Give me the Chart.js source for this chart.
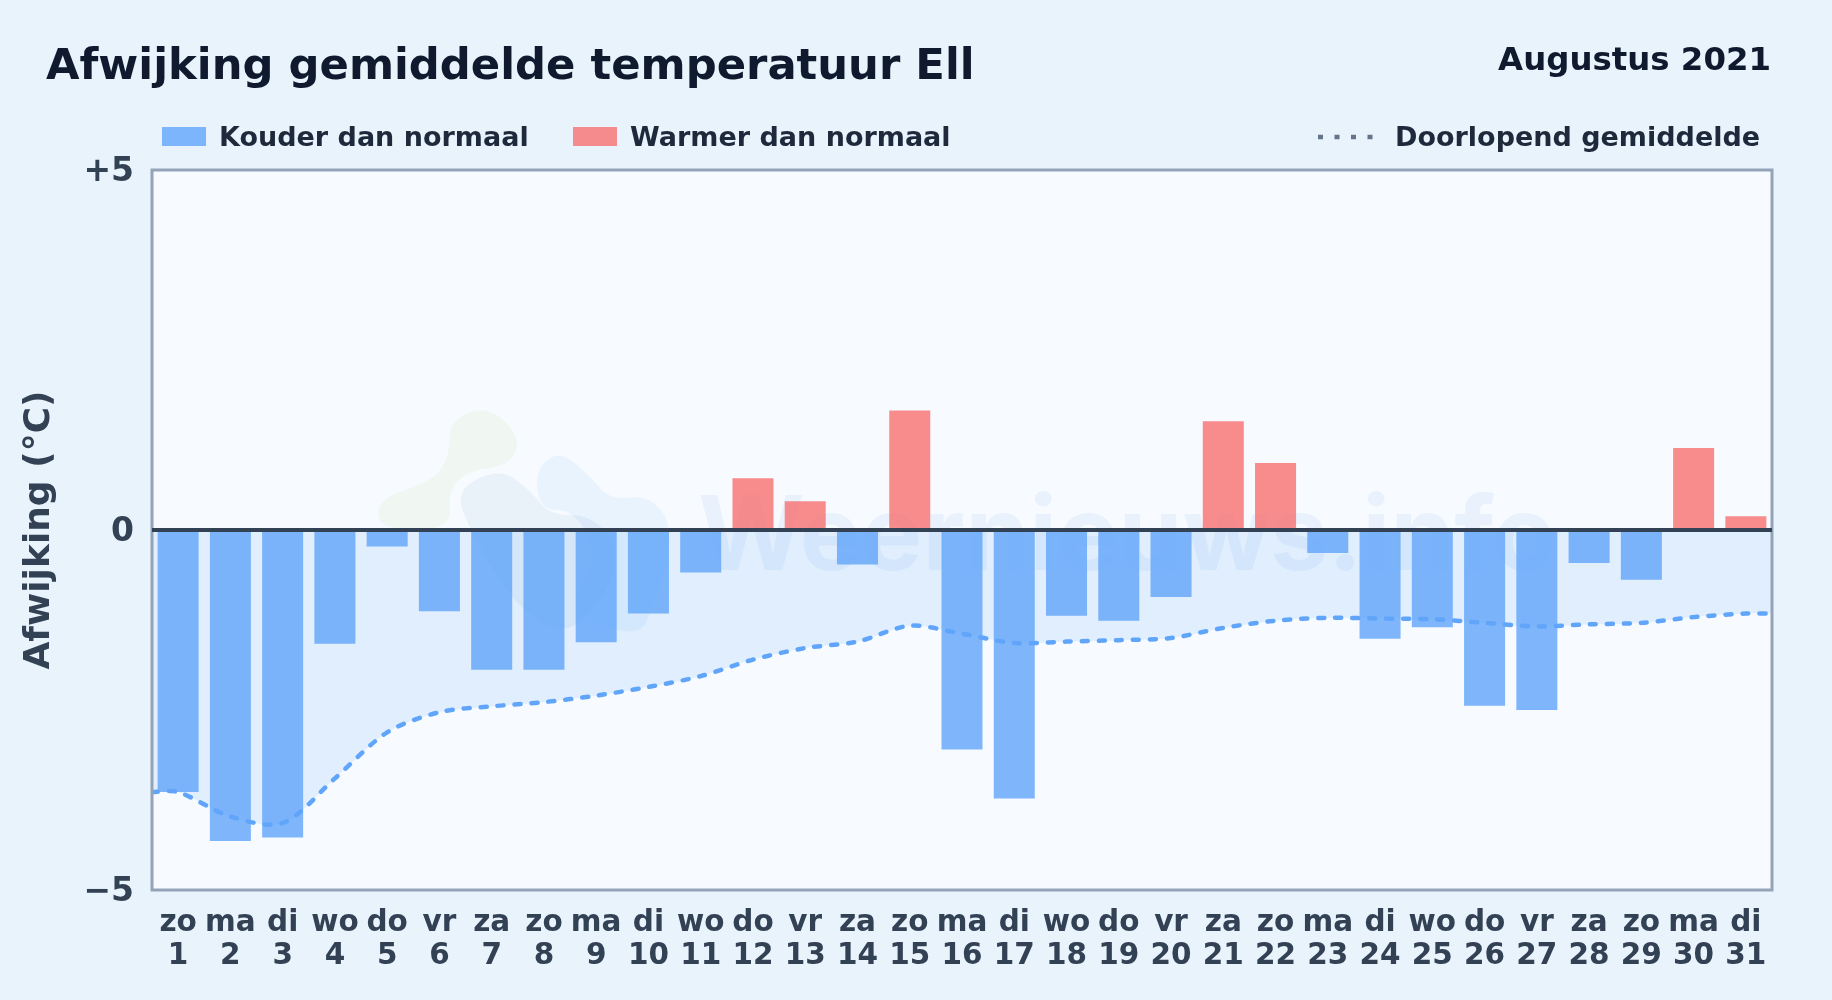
<!DOCTYPE html>
<html lang="nl">
<head>
<meta charset="utf-8">
<title>Afwijking gemiddelde temperatuur Ell</title>
<script src="https://cdn.jsdelivr.net/npm/chart.js@4"></script>
<style>
  html, body { margin: 0; padding: 0; }
  body {
    position: relative; width: 1832px; height: 1000px; overflow: hidden;
    background: #e9f3fc; font-family: "DejaVu Sans", sans-serif; font-weight: 700;
  }
  canvas { position: absolute; left: 0; top: 0; }
  .txt { position: absolute; white-space: nowrap; line-height: 1; }
  #title { left: 46px; top: 43px; font-size: 43.3px; color: #0f1a2e; }
  #month { right: 61px; top: 43px; font-size: 32.4px; color: #0f1a2e; }
  .legend { top: 123px; font-size: 27px; color: #1e293b; }
  .swatch { position: absolute; top: 127px; width: 44px; height: 19px; }
</style>
</head>
<body>
<canvas id="chart" width="1832" height="1000"></canvas>
<div class="txt" id="title">Afwijking gemiddelde temperatuur Ell</div>
<div class="txt" id="month">Augustus 2021</div>
<div class="swatch" style="left:162px;background:rgba(96,165,250,.8)"></div>
<div class="txt legend" style="left:219px">Kouder dan normaal</div>
<div class="swatch" style="left:573px;background:rgba(248,113,113,.8)"></div>
<div class="txt legend" style="left:630px">Warmer dan normaal</div>
<svg style="position:absolute;left:1316px;top:132px" width="60" height="10">
  <line x1="2" y1="5" x2="58" y2="5" stroke="#64748b" stroke-width="4.5" stroke-dasharray="5 11.5"/>
</svg>
<div class="txt legend" style="left:1395px">Doorlopend gemiddelde</div>
<script>
const weekdays = ['zo','ma','di','wo','do','vr','za','zo','ma','di','wo','do','vr','za','zo','ma','di','wo','do','vr','za','zo','ma','di','wo','do','vr','za','zo','ma','di'];
const days = [1,2,3,4,5,6,7,8,9,10,11,12,13,14,15,16,17,18,19,20,21,22,23,24,25,26,27,28,29,30,31];
const deviations = [-3.64,-4.32,-4.27,-1.58,-0.23,-1.13,-1.94,-1.94,-1.56,-1.16,-0.59,0.72,0.40,-0.48,1.66,-3.05,-3.73,-1.19,-1.26,-0.93,1.51,0.93,-0.32,-1.51,-1.35,-2.44,-2.50,-0.46,-0.69,1.14,0.19];
const runningMean = [-3.64,-3.98,-4.07,-3.45,-2.81,-2.53,-2.45,-2.39,-2.30,-2.18,-2.03,-1.80,-1.64,-1.55,-1.33,-1.44,-1.57,-1.55,-1.53,-1.50,-1.36,-1.26,-1.22,-1.23,-1.24,-1.29,-1.34,-1.31,-1.29,-1.21,-1.16];
const yTicks = { '5': '+5', '0': '0', '-5': '\u22125' };

const COLD = 'rgba(96,165,250,.8)';
const WARM = 'rgba(248,113,113,.8)';
const INK = '#334155';

// line runs on to the plot edges, same value as the first and last day
const meanPoints = [
  { x: 0.5, y: runningMean[0] },
  ...days.map((d, i) => ({ x: d, y: runningMean[i] })),
  { x: 31.5, y: runningMean[30] }
];

function blob(ctx, pts) {
  ctx.beginPath();
  const mid = (a, b) => [(a[0] + b[0]) / 2, (a[1] + b[1]) / 2];
  const start = mid(pts[pts.length - 1], pts[0]);
  ctx.moveTo(start[0], start[1]);
  pts.forEach((p, i) => {
    const m = mid(p, pts[(i + 1) % pts.length]);
    ctx.quadraticCurveTo(p[0], p[1], m[0], m[1]);
  });
  ctx.closePath();
  ctx.fill();
}

// plot background, watermark and frame
const plotDecor = {
  id: 'plotDecor',
  beforeDatasetsDraw(chart) {
    const { ctx, chartArea: a } = chart;
    ctx.save();
    ctx.fillStyle = '#f7fbff';
    ctx.fillRect(a.left, a.top, a.width, a.height);
    ctx.fillStyle = 'rgba(190,220,150,.12)';
    blob(ctx, [[449,420],[490,405],[522,440],[508,466],[470,470],[448,490],[452,530],[378,530],[378,498],[432,482],[450,455]]);
    ctx.fillStyle = 'rgba(120,190,250,.12)';
    blob(ctx, [[535,470],[560,450],[592,478],[610,500],[650,495],[675,530],[655,600],[640,640],[565,610],[600,560],[575,510],[540,510]]);
    ctx.fillStyle = 'rgba(60,110,170,.07)';
    blob(ctx, [[455,490],[500,468],[530,490],[550,515],[590,515],[618,545],[610,590],[565,640],[510,600],[470,530]]);
    ctx.font = 'bold 103px Inter';
    ctx.fillStyle = 'rgba(50,120,210,.07)';
    ctx.textBaseline = 'alphabetic';
    ctx.fillText('Weernieuws.info', 698, 570);
    ctx.restore();
  },
  afterDatasetsDraw(chart) {
    const { ctx, chartArea: a } = chart;
    ctx.save();
    ctx.strokeStyle = '#94a3b8';
    ctx.lineWidth = 3;
    ctx.strokeRect(a.left, a.top, a.width, a.height);
    ctx.restore();
  }
};

new Chart(document.getElementById('chart'), {
  data: {
    datasets: [
      {
        type: 'line',
        label: 'Doorlopend gemiddelde',
        data: meanPoints,
        borderColor: '#60a5fa',
        borderWidth: 4.5,
        borderDash: [6, 11],
        borderCapStyle: 'round',
        backgroundColor: 'rgba(96,165,250,.15)',
        fill: 'origin',
        tension: 0.3,
        pointRadius: 0,
        order: 1
      },
      {
        type: 'bar',
        label: 'Afwijking',
        data: days.map((d, i) => ({ x: d, y: deviations[i] })),
        backgroundColor: deviations.map(v => v < 0 ? COLD : WARM),
        barPercentage: 0.785,
        categoryPercentage: 1,
        order: 2
      }
    ]
  },
  options: {
    responsive: false,
    animation: false,
    devicePixelRatio: 1,
    layout: { padding: { left: 0, top: 170, right: 60, bottom: 0 } },
    plugins: { legend: { display: false }, tooltip: { enabled: false } },
    scales: {
      x: {
        type: 'linear',
        min: 0.5, max: 31.5,
        offset: false,
        grid: { display: false, offset: false },
        border: { display: false },
        afterFit(axis) { axis.height = 110; },
        afterBuildTicks(axis) { axis.ticks = days.map(d => ({ value: d })); },
        ticks: {
          autoSkip: false, maxRotation: 0, minRotation: 0, padding: 9,
          color: INK,
          font: { family: '"DejaVu Sans"', weight: 'bold', size: 29.5, lineHeight: 1.12 },
          callback: v => [weekdays[v - 1], String(v)]
        }
      },
      y: {
        min: -5, max: 5,
        afterFit(axis) { axis.width = 152; },
        grid: {
          z: 1,
          drawTicks: false,
          color: ctx => ctx.tick && ctx.tick.value === 0 ? INK : 'transparent',
          lineWidth: ctx => ctx.tick && ctx.tick.value === 0 ? 4 : 0
        },
        border: { display: false },
        ticks: {
          stepSize: 5, padding: 18,
          color: INK,
          // empty first line nudges the label down a little
          font: { family: '"DejaVu Sans"', weight: 'bold', size: 33, lineHeight: 0.15 },
          callback: v => ['', yTicks[v]]
        },
        title: {
          display: true, text: 'Afwijking (\u00b0C)', color: INK, padding: { top: 18, bottom: 0 },
          font: { family: '"DejaVu Sans"', weight: 'bold', size: 36 }
        }
      }
    }
  },
  plugins: [plotDecor]
});
</script>
</body>
</html>
